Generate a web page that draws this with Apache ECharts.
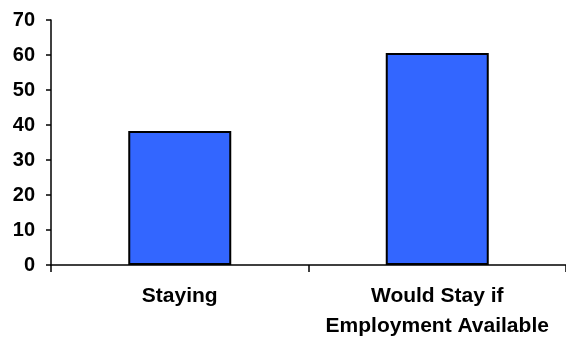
<!DOCTYPE html>
<html>
<head>
<meta charset="utf-8">
<script src="https://cdn.jsdelivr.net/npm/echarts@6/dist/echarts.min.js"></script>
<style>
html,body{margin:0;padding:0;background:#fff;}
#chart{width:566px;height:341px;}
</style>
</head>
<body>
<div id="chart"></div>
<script>
const categories = ["Staying", "Would Stay if\nEmployment Available"];
const values = [38.3, 60.6];
const yMin = 0, yMax = 70, yInterval = 10;

const chart = echarts.init(document.getElementById('chart'), null, {renderer: 'canvas'});
chart.setOption({
  animation: false,
  backgroundColor: '#ffffff',
  grid: {left: 51, top: 20, width: 521, bottom: 69.5, containLabel: false},
  xAxis: {
    type: 'category',
    data: categories,
    boundaryGap: true,
    axisLine: {show: true, lineStyle: {color: '#000', width: 1.5}},
    axisTick: {show: true, alignWithLabel: false, length: 7, lineStyle: {color: '#000', width: 1.5}},
    axisLabel: {
      interval: 0,
      margin: 16,
      color: '#000',
      fontFamily: 'Liberation Sans, Arial, sans-serif',
      fontWeight: 'bold',
      fontSize: 21,
      lineHeight: 30
    },
    splitLine: {show: false}
  },
  yAxis: {
    type: 'value',
    min: yMin, max: yMax, interval: yInterval,
    axisLine: {show: true, lineStyle: {color: '#000', width: 1.5}},
    axisTick: {show: true, length: 5, lineStyle: {color: '#000', width: 1.5}},
    axisLabel: {
      margin: 16,
      color: '#000',
      fontFamily: 'Liberation Sans, Arial, sans-serif',
      fontWeight: 'bold',
      fontSize: 20
    },
    splitLine: {show: false}
  },
  series: [{
    type: 'bar',
    data: values,
    barWidth: '40%',
    itemStyle: {color: '#3366FF', borderColor: '#000', borderWidth: 2}
  }]
});
</script>
</body>
</html>
